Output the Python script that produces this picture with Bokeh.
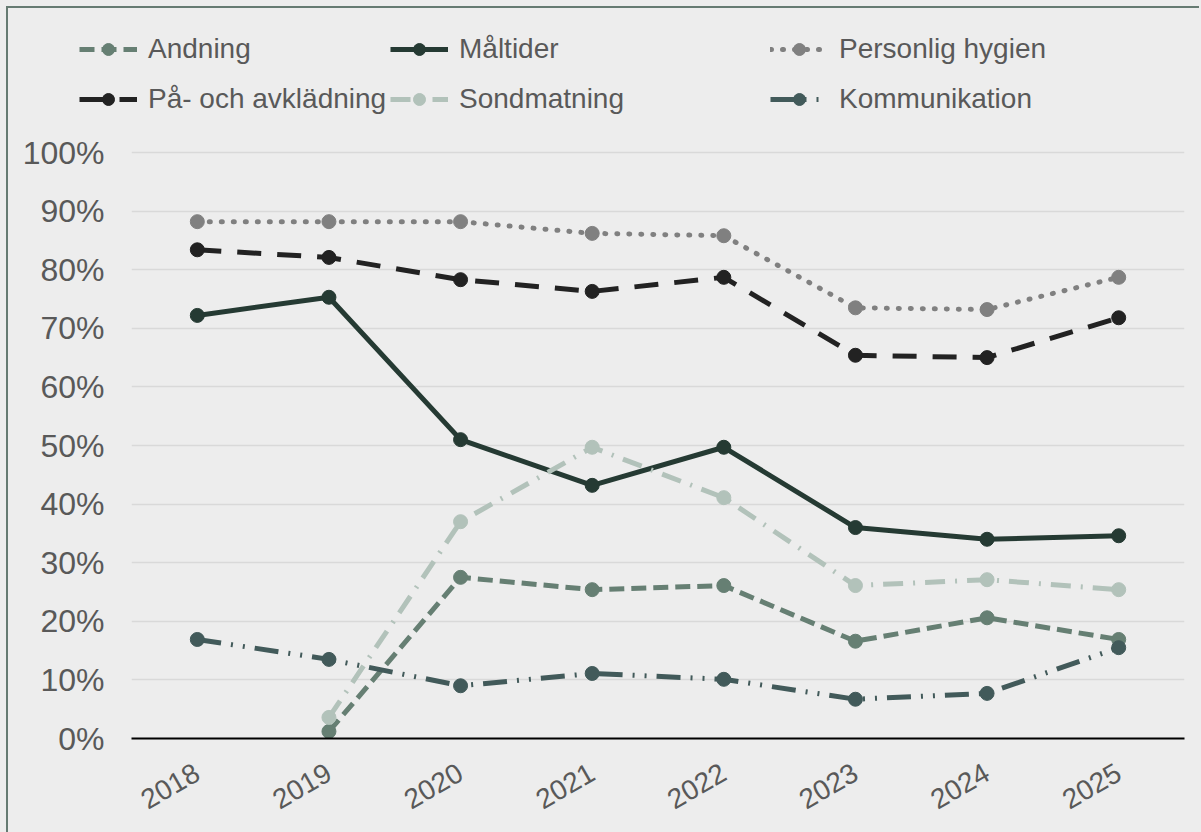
from bokeh.plotting import figure
from bokeh.models import Range1d, FactorRange, FixedTicker, NumeralTickFormatter, Legend, GlobalInlineStyleSheet
from bokeh.embed import file_html
from bokeh.resources import INLINE
import math

years = ["2018", "2019", "2020", "2021", "2022", "2023", "2024", "2025"]
nan = float("nan")
andning = [nan, 0.012, 0.275, 0.254, 0.261, 0.166, 0.206, 0.169]
maltider = [0.722, 0.753, 0.510, 0.432, 0.497, 0.360, 0.340, 0.346]
hygien = [0.882, 0.882, 0.882, 0.862, 0.858, 0.735, 0.732, 0.787]
avkladning = [0.834, 0.821, 0.783, 0.763, 0.787, 0.654, 0.650, 0.718]
sondmatning = [nan, 0.036, 0.370, 0.497, 0.411, 0.261, 0.271, 0.254]
kommunikation = [0.169, 0.135, 0.090, 0.111, 0.101, 0.067, 0.077, 0.155]
y_ticks = [0, 0.1, 0.2, 0.3, 0.4, 0.5, 0.6, 0.7, 0.8, 0.9, 1.0]

series = [
    ("Andning", andning, "#667F73", "15 7"),
    ("Måltider", maltider, "#253A33", "solid"),
    ("Personlig hygien", hygien, "#808080", "1 11"),
    ("På- och avklädning", avkladning, "#222222", "24 16"),
    ("Sondmatning", sondmatning, "#B2C2BA", "20 10 2 10"),
    ("Kommunikation", kommunikation, "#425A5A", "24 10 2 10 2 10"),
]

FONT = "Liberation Sans"
TXT = "#595959"
BG = "#EDEDED"
BORDER = "2px solid #667B72"
LW = 5
MS = 14

page_css = GlobalInlineStyleSheet(css="html, body { background-color: #EDEDED; }")


def draw(fig, name, vals, col, dash):
    cap = "round" if dash == "1 11" else "butt"
    l = fig.line(years, vals, line_color=col, line_width=LW, line_dash=dash,
                 line_cap=cap, line_join="round")
    s = fig.scatter(years, vals, size=MS, fill_color=col, line_color=col)
    return [l, s]


# legend strip (top)
pl = figure(width=1193, height=124, output_backend="svg", toolbar_location=None,
            x_range=FactorRange(*years), y_range=Range1d(5, 6),
            x_axis_type=None, y_axis_type=None,
            min_border_left=0, min_border_right=0, min_border_top=0, min_border_bottom=0,
            background_fill_color=BG, border_fill_color=BG,
            stylesheets=[page_css],
            styles={"border-left": BORDER, "border-top": BORDER,
                    "margin-left": "6px", "margin-top": "6px"})
pl.outline_line_color = None
pl.grid.visible = False
items = []
for name, vals, col, dash in series:
    items.append((name, draw(pl, name, vals, col, dash)))

# three legend columns: (col0: items 0,3), (col1: items 1,4), (col2: items 2,5)
col_x = [71, 382, 762]
for c in range(3):
    lg = Legend(items=[items[c], items[c + 3]], location=(col_x[c], 8), orientation="vertical",
                glyph_width=58, glyph_height=30, label_height=50,
                label_standoff=11, spacing=0, padding=0, margin=0,
                border_line_color=None, background_fill_alpha=0,
                label_text_font=FONT, label_text_font_size="28px", label_text_color=TXT)
    pl.add_layout(lg, "center")

# main chart
p = figure(width=1193, height=702, output_backend="svg", toolbar_location=None,
           x_range=FactorRange(*years), y_range=Range1d(0, 1.0171),
           min_border_left=123, min_border_right=17, min_border_top=12, min_border_bottom=94,
           background_fill_color=BG, border_fill_color=BG,
           styles={"border-left": BORDER, "margin-left": "6px"})
p.outline_line_color = None
for name, vals, col, dash in series:
    draw(p, name, vals, col, dash)

p.xgrid.grid_line_color = None
p.ygrid.ticker = FixedTicker(ticks=y_ticks)
p.ygrid.grid_line_color = "#D9D9D9"
p.ygrid.grid_line_width = 1.5

p.yaxis.ticker = FixedTicker(ticks=y_ticks)
p.yaxis.formatter = NumeralTickFormatter(format="0%")
p.yaxis.axis_line_color = None
p.yaxis.major_tick_line_color = None
p.yaxis.minor_tick_line_color = None
p.yaxis.major_label_text_font = FONT
p.yaxis.major_label_text_font_size = "32px"
p.yaxis.major_label_text_color = TXT
p.yaxis.major_label_standoff = 21

p.xaxis.axis_line_color = "#000000"
p.xaxis.axis_line_width = 2
p.xaxis.major_tick_line_color = None
p.xaxis.minor_tick_line_color = None
p.xaxis.major_label_orientation = math.pi / 6
p.xaxis.major_label_text_font = FONT
p.xaxis.major_label_text_font_size = "28px"
p.xaxis.major_label_text_color = TXT
p.xaxis.major_label_standoff = 26

open("out.html", "w").write(file_html([pl, p], INLINE))
